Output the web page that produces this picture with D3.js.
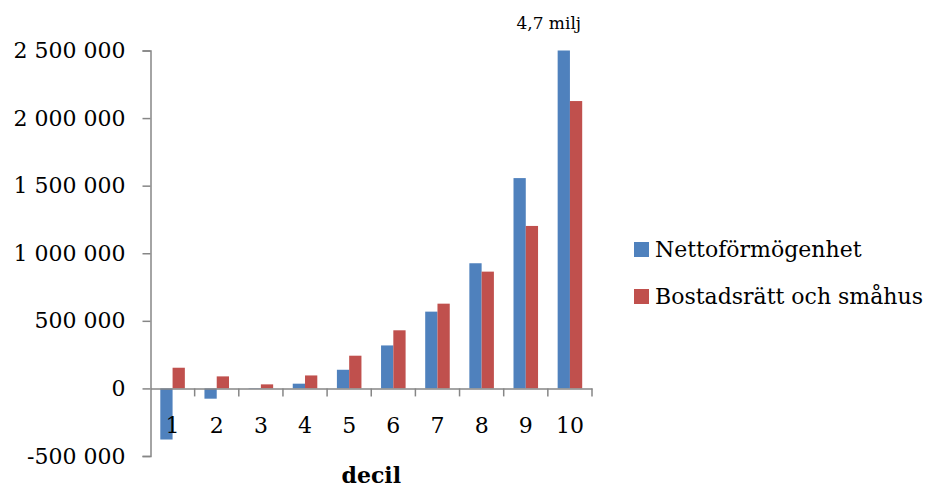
<!DOCTYPE html>
<html>
<head>
<meta charset="utf-8">
<script src="https://cdn.jsdelivr.net/npm/d3@7"></script>
<style>
  body { margin: 0; background: #fff; }
  text { font-family: "DejaVu Serif", serif; fill: #000; }
</style>
</head>
<body>
<div id="chart"></div>
<script>
const deciles = ["1", "2", "3", "4", "5", "6", "7", "8", "9", "10"];
const seriesNames = ["Nettoförmögenhet", "Bostadsrätt och småhus"];
const netto = [-378000, -76000, -3000, 35000, 138000, 318000, 568000, 926000, 1556000, 4700000];
const bostad = [153000, 89000, 30000, 96000, 242000, 430000, 627000, 864000, 1202000, 2126000];
const yTicks = [-500000, 0, 500000, 1000000, 1500000, 2000000, 2500000];
const colors = ["#4F81BD", "#C0504D"];

const W = 928, H = 488;
const svg = d3.select("#chart").append("svg")
  .attr("width", W).attr("height", H)
  .attr("xmlns", "http://www.w3.org/2000/svg");

const M = { left: 150.5, right: 592, top: 50.5, bottom: 456 };

const x = d3.scaleBand().domain(deciles).range([M.left, M.right]).paddingInner(0).paddingOuter(0);
const bw = x.bandwidth();
const x1 = d3.scaleBand().domain(seriesNames).range([bw * 0.222, bw * 0.778]);

const y = d3.scaleLinear().domain([-500000, 2500000]).range([M.bottom, M.top]).clamp(true);

const fmt = d => d3.format(",")(d).replace(/,/g, " ").replace("−", "-");

// y axis
const yAxis = svg.append("g")
  .attr("transform", `translate(${M.left},0)`)
  .call(d3.axisLeft(y).tickValues(yTicks).tickSize(8).tickPadding(17).tickFormat(fmt));
yAxis.select(".domain").attr("stroke", "#868686").attr("stroke-width", 1.5);
yAxis.selectAll(".tick line").attr("stroke", "#868686").attr("stroke-width", 1.5);
yAxis.selectAll("text").style("font-size", "22px").style("font-family", "DejaVu Serif").attr("fill", "#000");

// bars
const rows = deciles.map((d, i) => ({ d, vals: [netto[i], bostad[i]] }));
const groups = svg.append("g").selectAll("g").data(rows).join("g")
  .attr("transform", r => `translate(${x(r.d)},0)`);
groups.selectAll("rect")
  .data(r => r.vals.map((v, k) => ({ v, k })))
  .join("rect")
  .attr("x", e => x1(seriesNames[e.k]))
  .attr("width", x1.bandwidth())
  .attr("y", e => Math.min(y(e.v), y(0)))
  .attr("height", e => Math.abs(y(e.v) - y(0)))
  .attr("fill", e => colors[e.k]);

// x axis at zero
const xAxis = svg.append("g")
  .attr("transform", `translate(0,${y(0)})`)
  .call(d3.axisBottom(x).tickSize(0).tickPadding(29));
xAxis.select(".domain").attr("stroke", "#868686").attr("stroke-width", 1.5);
xAxis.selectAll("text").style("font-size", "22px").style("font-family", "DejaVu Serif").attr("fill", "#000");
// tick marks at band boundaries
svg.append("g").selectAll("line").data(deciles).join("line")
  .attr("x1", d => x(d) + bw).attr("x2", d => x(d) + bw)
  .attr("y1", y(0)).attr("y2", y(0) + 8)
  .attr("stroke", "#868686").attr("stroke-width", 1.5);

// axis title
svg.append("text")
  .attr("x", (M.left + M.right) / 2).attr("y", 483)
  .attr("text-anchor", "middle")
  .style("font-size", "22px").style("font-weight", "bold")
  .text("decil");

// annotation for clipped bar
svg.append("text")
  .attr("x", x("10") + x1(seriesNames[0]) + x1.bandwidth() / 2 - 15).attr("y", 29)
  .attr("text-anchor", "middle")
  .style("font-size", "17px")
  .text("4,7 milj");

// legend
const legend = svg.append("g").attr("transform", "translate(634,242)");
seriesNames.forEach((s, i) => {
  const g = legend.append("g").attr("transform", `translate(0,${i * 47})`);
  g.append("rect").attr("width", 15).attr("height", 15).attr("fill", colors[i]);
  g.append("text").attr("x", 21).attr("y", 15).style("font-size", "22px").text(s);
});
</script>
</body>
</html>
